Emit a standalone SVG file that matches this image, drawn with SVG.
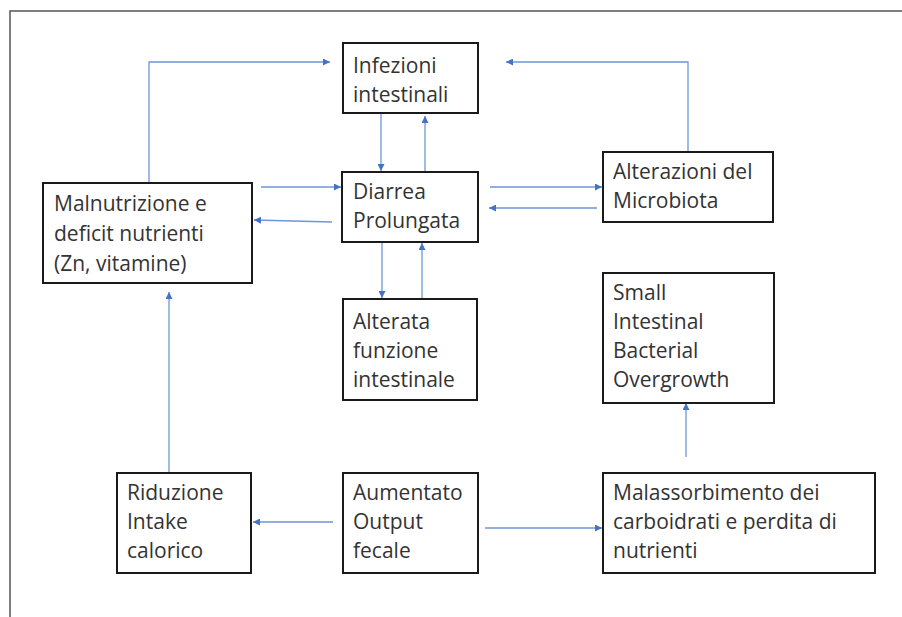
<svg xmlns="http://www.w3.org/2000/svg" width="902" height="617" viewBox="0 0 902 617">
<defs>
<marker id="ah" viewBox="0 0 10 10" refX="10" refY="5" markerWidth="7" markerHeight="7" markerUnits="userSpaceOnUse" orient="auto">
<path d="M0,0 L10,5 L0,10 z" fill="#4472C4"/>
</marker>
<style>
.box{fill:#fff;stroke:#1a1a1a;stroke-width:2}
.t{font-family:"Open Sans","Noto Sans",sans-serif;font-size:21px;fill:#333}
.c{fill:none;stroke:#6f95d8;stroke-width:1.3}
.a{marker-end:url(#ah)}
.frame{fill:none;stroke:#555;stroke-width:1.5}
</style>
</defs>
<rect width="902" height="617" fill="#fff"/>
<path class="frame" d="M10,617 V11 H902"/>

<g id="connectors">
<path class="c a" d="M149,183 V62 H330"/>
<path class="c a" d="M688,152 V62 H506"/>
<path class="c a" d="M381,114 V171"/>
<path class="c a" d="M425,172 V116"/>
<path class="c a" d="M261,187 H341"/>
<path class="c a" d="M332,222 L254,220"/>
<path class="c a" d="M490,187 H602"/>
<path class="c a" d="M597,208 H489"/>
<path class="c a" d="M382,243 V298"/>
<path class="c a" d="M422,298 V243"/>
<path class="c a" d="M169,473 V292"/>
<path class="c a" d="M333,522 H253"/>
<path class="c a" d="M485,528 H602"/>
<path class="c a" d="M686,457 V403"/>
</g>

<g id="n-infezioni">
<rect class="box" x="343" y="43" width="135" height="70"/>
<text class="t" x="353" y="73">Infezioni</text>
<text class="t" x="353" y="102">intestinali</text>
</g>
<g id="n-diarrea">
<rect class="box" x="342" y="172" width="136" height="70"/>
<text class="t" x="353" y="199">Diarrea</text>
<text class="t" x="353" y="228">Prolungata</text>
</g>
<g id="n-alterata">
<rect class="box" x="343" y="299" width="134" height="101"/>
<text class="t" x="353" y="329">Alterata</text>
<text class="t" x="353" y="358">funzione</text>
<text class="t" x="353" y="387">intestinale</text>
</g>
<g id="n-malnutrizione">
<rect class="box" x="43" y="183" width="209" height="100"/>
<text class="t" x="54" y="211">Malnutrizione e</text>
<text class="t" x="54" y="241">deficit nutrienti</text>
<text class="t" x="54" y="271">(Zn, vitamine)</text>
</g>
<g id="n-alterazioni">
<rect class="box" x="603" y="152" width="170" height="70"/>
<text class="t" x="613" y="179">Alterazioni del</text>
<text class="t" x="613" y="208">Microbiota</text>
</g>
<g id="n-sibo">
<rect class="box" x="603" y="273" width="171" height="130"/>
<text class="t" x="613" y="300">Small</text>
<text class="t" x="613" y="329">Intestinal</text>
<text class="t" x="613" y="358">Bacterial</text>
<text class="t" x="613" y="387">Overgrowth</text>
</g>
<g id="n-riduzione">
<rect class="box" x="117" y="473" width="134" height="100"/>
<text class="t" x="127" y="500">Riduzione</text>
<text class="t" x="127" y="529">Intake</text>
<text class="t" x="127" y="558">calorico</text>
</g>
<g id="n-aumentato">
<rect class="box" x="343" y="473" width="135" height="100"/>
<text class="t" x="353" y="500">Aumentato</text>
<text class="t" x="353" y="529">Output</text>
<text class="t" x="353" y="558">fecale</text>
</g>
<g id="n-malassorbimento">
<rect class="box" x="603" y="473" width="272" height="100"/>
<text class="t" x="613" y="500">Malassorbimento dei</text>
<text class="t" x="613" y="529">carboidrati e perdita di</text>
<text class="t" x="613" y="558">nutrienti</text>
</g>
</svg>
